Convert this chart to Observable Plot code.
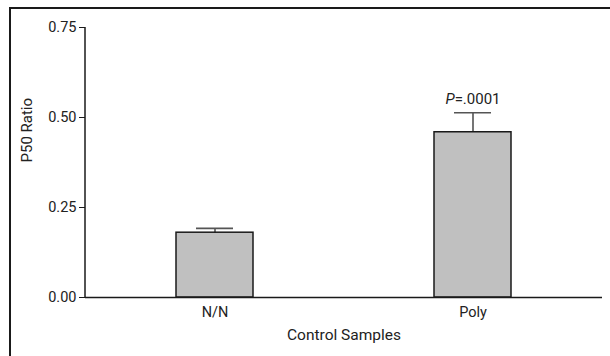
<!DOCTYPE html>
<html>
<head>
<meta charset="utf-8">
<script src="https://cdn.jsdelivr.net/npm/d3@7"></script>
<script src="https://cdn.jsdelivr.net/npm/@observablehq/plot@0.6"></script>
<style>
  html, body { margin: 0; padding: 0; background: #fff; }
  #wrap { position: relative; width: 610px; height: 356px; overflow: hidden; }
  #frame { position: absolute; left: 9px; top: 7px; width: 700px; height: 500px;
           border-top: 2px solid #1a1a1a; border-left: 2px solid #1a1a1a; box-sizing: border-box; }
  svg { position: absolute; left: 0; top: 0; }
</style>
</head>
<body>
<div id="wrap"><div id="frame"></div></div>
<script>
const categories = ["N/N", "Poly"];
const values = [0.18, 0.459];
const errorTops = [0.192, 0.513];
const annotations = ["", "P=.0001"];
const yTicks = [0, 0.25, 0.5, 0.75];

const data = categories.map((c, i) => ({cat: c, value: values[i], err: errorTops[i], note: annotations[i]}));

const font = "Roboto, 'Liberation Sans Narrow', Arial, sans-serif";

const chart = Plot.plot({
  width: 610,
  height: 356,
  marginLeft: 85,
  marginRight: 8,
  marginTop: 27,
  marginBottom: 59,
  style: {fontFamily: font, fontSize: "14px", color: "#222", background: "transparent", overflow: "visible"},
  x: {domain: categories, paddingInner: 0.7, paddingOuter: 0.35, label: null, axis: null},
  y: {domain: [0, 0.75], ticks: yTicks, label: null, axis: null},
  marks: [
    Plot.barY(data, {x: "cat", y: "value", fill: "#c0c0c0", stroke: "#1a1a1a", strokeWidth: 1.5}),
    Plot.ruleX(data, {x: "cat", y1: "value", y2: "err", stroke: "#1a1a1a", strokeWidth: 1.2}),
    Plot.tickY(data, {x: "cat", y: "err", stroke: "#555", strokeWidth: 1.6, insetLeft: 20, insetRight: 20}),
    Plot.text(data.filter(d => d.note), {x: "cat", y: "err", text: "note", lineAnchor: "bottom", dy: -9, fontSize: 15, fill: "#222", className: "note"}),
    Plot.axisY({ticks: yTicks, tickFormat: d3.format(".2f"), tickSize: 6, tickPadding: 3, fontSize: 14.5, label: null, stroke: "#1a1a1a", fill: "#222"}),
    Plot.ruleY([0], {stroke: "#1a1a1a", strokeWidth: 1.5}),
    Plot.axisX({tickSize: 0, tickPadding: 9, fontSize: 14.5, label: null, fill: "#222"}),
    Plot.text(["Control Samples"], {frameAnchor: "bottom", dy: 42, fontSize: 15.5, fill: "#222"}),
    Plot.text(["P50 Ratio"], {frameAnchor: "left", dx: -58, rotate: -90, fontSize: 15, fill: "#222"})
  ]
});

document.getElementById("wrap").appendChild(chart);

// vertical y-axis line, positioned through the chart's own scales
const ys = chart.scale("y");
const xs = chart.scale("x");
const yDom = ys.domain;
d3.select(chart).append("line")
  .attr("x1", 85).attr("x2", 85)
  .attr("y1", ys.apply(yDom[0])).attr("y2", ys.apply(yDom[1]))
  .attr("stroke", "#1a1a1a").attr("stroke-width", 1.5);

d3.select(chart).selectAll("g.note text").each(function() {
  const t = d3.select(this);
  const s = t.text();
  t.text(null);
  t.append("tspan").attr("font-style", "italic").text(s.slice(0, 1));
  t.append("tspan").text(s.slice(1));
});
</script>
</body>
</html>
